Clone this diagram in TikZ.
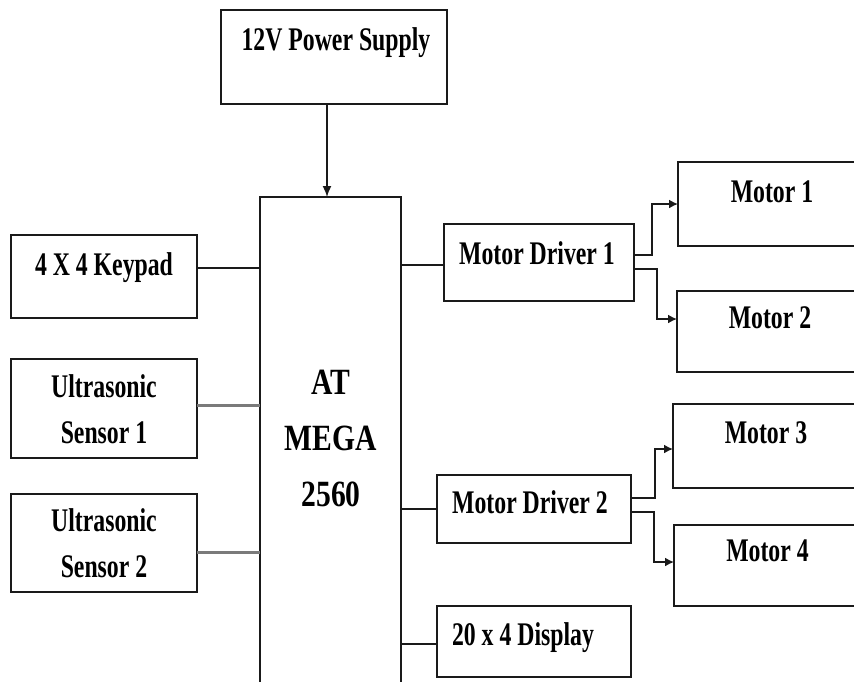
\documentclass[tikz,border=0pt]{standalone}
\usepackage{fontspec}
\usepackage{tikz}
\usetikzlibrary{arrows.meta}
\newfontfamily\blockfont[FakeStretch=0.72]{Liberation Serif}
\newfontfamily\mcufont[FakeStretch=0.8]{Liberation Serif}
\definecolor{boxblack}{HTML}{1A1A1A}
\definecolor{linegrey}{HTML}{7A7A7A}
\tikzset{
  blockbox/.style={
    draw=boxblack,
    line width=1.6pt,
    fill=white,
    inner sep=0pt,
    outer sep=0pt
  },
  blocktext/.style={
    align=center,
    inner sep=0pt,
    font=\blockfont\bfseries\fontsize{33}{46}\selectfont
  },
  mcutext/.style={
    align=center,
    inner sep=0pt,
    font=\mcufont\bfseries\fontsize{37}{56}\selectfont
  },
  link/.style={
    line width=1.6pt,
    draw=boxblack
  },
  greylink/.style={
    line width=3pt,
    draw=linegrey
  },
  arrow/.style={
    -{Latex[length=9pt,width=9pt]},
    line width=1.6pt,
    draw=boxblack
  }
}
\begin{document}
\begin{tikzpicture}[x=1pt,y=-1pt]
\useasboundingbox (0,0) rectangle (854,681);
\clip (0,0) rectangle (854,681);
% blocks
\node[blockbox, minimum width=226pt, minimum height=94pt] (ps) at (334,57) {};
\node[blockbox, minimum width=141pt, minimum height=523pt] (mcu) at (330.5,458.5) {};
\node[blockbox, minimum width=186pt, minimum height=83pt] (kp) at (104,276.5) {};
\node[blockbox, minimum width=186pt, minimum height=99pt] (us1) at (104,408.5) {};
\node[blockbox, minimum width=186pt, minimum height=98pt] (us2) at (104,543) {};
\node[blockbox, minimum width=190pt, minimum height=77pt] (d1) at (539,262.5) {};
\node[blockbox, minimum width=194pt, minimum height=68pt] (d2) at (534,509) {};
\node[blockbox, minimum width=194pt, minimum height=71pt] (disp) at (534,641.5) {};
\node[blockbox, minimum width=192pt, minimum height=84pt] (m1) at (774,204) {};
\node[blockbox, minimum width=193pt, minimum height=81pt] (m2) at (773.5,331.5) {};
\node[blockbox, minimum width=197pt, minimum height=84pt] (m3) at (771.5,446) {};
\node[blockbox, minimum width=196pt, minimum height=81pt] (m4) at (772,565.5) {};
% texts
\node[blocktext, anchor=base] (ps-t) at (336,50) {12V Power Supply};
\node[mcutext] (mcu-t) at (331,438.5) {AT\\MEGA\\2560};
\node[blocktext, anchor=base] (kp-t) at (104,275) {4 X 4 Keypad};
\node[blocktext] (us1-t) at (104,409) {Ultrasonic\\Sensor 1};
\node[blocktext] (us2-t) at (104,543.5) {Ultrasonic\\Sensor 2};
\node[blocktext, anchor=base] (d1-t) at (537,264) {Motor Driver 1};
\node[blocktext, anchor=base] (d2-t) at (530,513) {Motor Driver 2};
\node[blocktext, anchor=base] (disp-t) at (523,645) {20 x 4 Display};
\node[blocktext, anchor=base] (m1-t) at (772,202) {Motor 1};
\node[blocktext, anchor=base] (m2-t) at (770,328) {Motor 2};
\node[blocktext, anchor=base] (m3-t) at (766,443) {Motor 3};
\node[blocktext, anchor=base] (m4-t) at (767.5,561) {Motor 4};
% connections
\draw[arrow, -{Latex[length=11pt,width=9pt]}] ([xshift=-7pt]ps.south) coordinate (pso) -- (pso |- mcu.north);
\draw[link] ([yshift=8.5pt]kp.east) coordinate (kpo) -- (kpo -| mcu.west);
\draw[greylink] ([yshift=3.5pt]us1.east) coordinate (us1o) -- (us1o -| mcu.west);
\draw[greylink] ([yshift=-9.5pt]us2.east) coordinate (us2o) -- (us2o -| mcu.west);
\draw[link] ([yshift=-2.5pt]d1.west) coordinate (d1i) -- (d1i -| mcu.east);
\draw[link] (d2.west) -- (d2.west -| mcu.east);
\draw[link] ([yshift=-2.5pt]disp.west) coordinate (dispi) -- (dispi -| mcu.east);
\draw[arrow] ([yshift=7.5pt]d1.east) -- ++(18,0) |- (m1.west);
\draw[arrow] ([yshift=-6.5pt]d1.east) -- ++(23,0) |- ([yshift=12.5pt]m2.west);
\draw[arrow] ([yshift=11pt]d2.east) -- ++(24,0) |- ([yshift=-3pt]m3.west);
\draw[arrow] ([yshift=-3pt]d2.east) -- ++(23,0) |- ([yshift=3.5pt]m4.west);
\end{tikzpicture}
\end{document}
